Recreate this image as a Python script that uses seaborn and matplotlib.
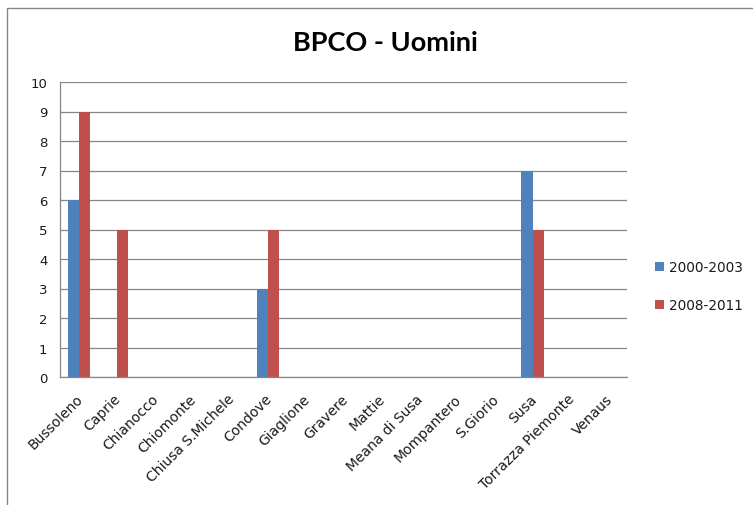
import matplotlib
matplotlib.use("Agg")
import matplotlib.pyplot as plt
import matplotlib.transforms as mtransforms
import seaborn as sns
import pandas as pd
from matplotlib.patches import Rectangle

categories = ["Bussoleno", "Caprie", "Chianocco", "Chiomonte", "Chiusa S.Michele",
              "Condove", "Giaglione", "Gravere", "Mattie", "Meana di Susa",
              "Mompantero", "S.Giorio", "Susa", "Torrazza Piemonte", "Venaus"]
series_names = ["2000-2003", "2008-2011"]
values_2000_2003 = [6, 0, 0, 0, 0, 3, 0, 0, 0, 0, 0, 0, 7, 0, 0]
values_2008_2011 = [9, 5, 0, 0, 0, 5, 0, 0, 0, 0, 0, 0, 5, 0, 0]
y_ticks = list(range(0, 11))

df = pd.DataFrame({
    "Comune": categories * 2,
    "Periodo": [series_names[0]] * len(categories) + [series_names[1]] * len(categories),
    "Valore": values_2000_2003 + values_2008_2011,
})

sns.set_theme(style="white")
plt.rcParams['font.family'] = ['DejaVu Sans']

fig = plt.figure(figsize=(7.53, 5.06), dpi=100)
W, H = 753, 506
ax = fig.add_axes([60 / W, 1 - 378 / H, (627 - 60) / W, (378 - 83) / H])

sns.barplot(data=df, x="Comune", y="Valore", hue="Periodo", order=categories,
            hue_order=series_names, palette=["#4F81BD", "#C0504D"],
            width=0.59, saturation=1, ax=ax, edgecolor="none", linewidth=0)

n = len(categories)
ax.set_xlim(-0.5, n - 0.5)
ax.set_ylim(0, 10)
ax.set_yticks(y_ticks)
ax.set_yticklabels([str(v) for v in y_ticks], fontsize=9.5, color="#1a1a1a")
ax.yaxis.grid(True, color="#868686", linewidth=0.9)
ax.set_axisbelow(True)
ax.set_xlabel("")
ax.set_ylabel("")

ax.set_xticks(range(n))
ax.set_xticklabels(categories, rotation=45, ha="right", va="center",
                   rotation_mode="anchor", fontsize=10, color="#1a1a1a")
ax.set_xticks([i - 0.5 for i in range(n + 1)], minor=True)
ax.tick_params(axis="x", which="major", length=0, pad=14)
ax.tick_params(axis="x", which="minor", length=5, color="#868686", width=0.9, direction="out")
ax.tick_params(axis="y", which="major", length=5, color="#868686", width=0.9, direction="out", pad=4)

offset = mtransforms.ScaledTranslation(2 / 100, 0, fig.dpi_scale_trans)
for lbl in ax.get_xticklabels():
    lbl.set_transform(lbl.get_transform() + offset)

for s in ["top", "right"]:
    ax.spines[s].set_visible(False)
for s in ["left", "bottom"]:
    ax.spines[s].set_color("#868686")
    ax.spines[s].set_linewidth(0.9)

leg = ax.legend(loc="center left", bbox_to_anchor=(643 / W, 1 - 287 / H),
                bbox_transform=fig.transFigure, frameon=False, fontsize=9.8,
                handlelength=0.65, handleheight=0.65, labelspacing=1.75, handletextpad=0.35)
for t in leg.get_texts():
    t.set_color("#1a1a1a")

fig.text(385 / W, 1 - 43 / H, "BPCO - Uomini", ha="center", va="center",
         fontsize=19.5, fontweight="bold", color="#000000", family=["Lato", "DejaVu Sans"])

fig.patches.append(Rectangle((7 / W, -0.02), 1.0, 1.02 - 9 / H,
                             transform=fig.transFigure, fill=False,
                             edgecolor="#868686", linewidth=1))

fig.savefig("out.png", dpi=100)
